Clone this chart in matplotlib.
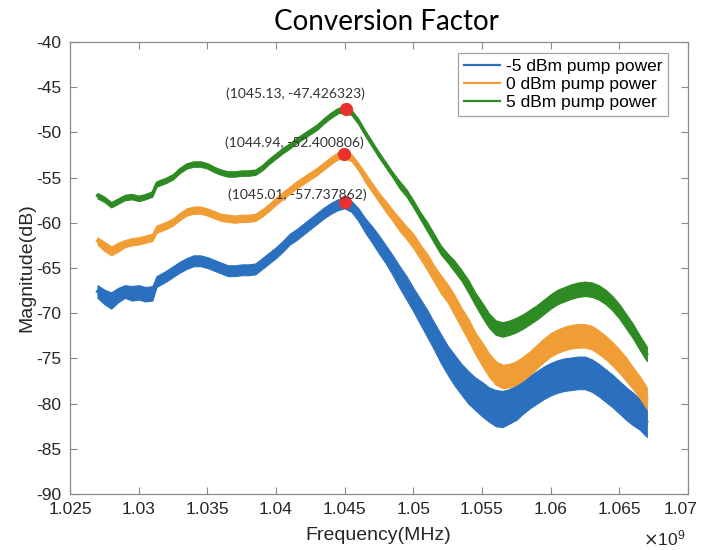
import numpy as np
import matplotlib
matplotlib.use("Agg")
import matplotlib.pyplot as plt
from matplotlib.ticker import FuncFormatter
from matplotlib.transforms import ScaledTranslation

plt.rcParams['axes.unicode_minus'] = False
plt.rcParams['font.family'] = ['Liberation Sans', 'DejaVu Sans']

# Frequency samples (MHz)
freq_mhz = [1027.0, 1027.5, 1028.0, 1028.5, 1029.0, 1029.5, 1030.0, 1030.5, 1031.0, 1031.3,
            1032.0, 1032.5, 1033.0, 1033.5, 1034.0, 1034.5, 1035.0, 1035.5, 1036.0, 1036.5,
            1037.0, 1037.5, 1038.0, 1038.5, 1039.0, 1039.5, 1040.0, 1040.5, 1041.0, 1041.5,
            1042.0, 1042.5, 1043.0, 1043.5, 1044.0, 1044.5, 1045.0, 1045.5, 1046.0, 1046.5,
            1047.0, 1047.5, 1048.0, 1048.5, 1049.0, 1049.5, 1050.0, 1050.5, 1051.0, 1051.5,
            1052.0, 1052.5, 1053.0, 1053.5, 1054.0, 1054.5, 1055.0, 1055.5, 1056.0, 1056.5,
            1057.0, 1057.5, 1058.0, 1058.5, 1059.0, 1059.5, 1060.0, 1060.5, 1061.0, 1061.5,
            1062.0, 1062.5, 1063.0, 1063.5, 1064.0, 1064.5, 1065.0, 1065.5, 1066.0, 1066.5,
            1067.0]

# Mean magnitude (dB) for each pump power
mag_m5 = [-67.6, -68.2, -68.6, -68.0, -67.6, -67.8, -67.7, -67.9, -67.8, -66.5,
          -65.9, -65.4, -64.9, -64.5, -64.2, -64.2, -64.4, -64.7, -65.0, -65.3,
          -65.3, -65.2, -65.2, -65.1, -64.5, -63.9, -63.3, -62.6, -61.8, -61.3,
          -60.7, -60.1, -59.5, -58.9, -58.4, -58.0, -57.8, -58.2, -59.1, -60.3,
          -61.3, -62.4, -63.5, -64.7, -66.0, -67.2, -68.5, -69.8, -71.1, -72.5,
          -73.9, -75.2, -76.3, -77.3, -78.2, -78.9, -79.5, -80.1, -80.5, -80.6,
          -80.3, -79.9, -79.3, -78.7, -78.2, -77.7, -77.3, -77.0, -76.8, -76.7,
          -76.6, -76.6, -76.9, -77.4, -78.0, -78.6, -79.3, -80.0, -80.6, -81.2,
          -82.0]

mag_0 = [-62.0, -62.6, -63.1, -62.7, -62.3, -62.1, -62.0, -61.8, -61.6, -60.7,
         -60.3, -59.9, -59.3, -58.8, -58.6, -58.6, -58.8, -59.1, -59.4, -59.5,
         -59.6, -59.5, -59.5, -59.4, -58.9, -58.3, -57.6, -57.0, -56.4, -55.8,
         -55.3, -54.8, -54.3, -53.7, -53.1, -52.6, -52.45, -52.8, -53.8, -55.0,
         -56.1, -57.2, -58.2, -59.2, -60.2, -61.1, -62.0, -63.2, -64.3, -65.6,
         -66.8, -67.8, -69.1, -70.5, -71.8, -73.3, -74.5, -75.7, -76.6, -77.0,
         -76.9, -76.6, -76.1, -75.5, -74.8, -74.1, -73.5, -73.1, -72.8, -72.6,
         -72.5, -72.5, -72.7, -73.2, -73.8, -74.5, -75.3, -76.2, -77.2, -78.2,
         -79.4]

mag_p5 = [-57.0, -57.4, -58.0, -57.6, -57.2, -57.1, -57.3, -57.1, -56.8, -55.7,
          -55.3, -54.9, -54.2, -53.7, -53.5, -53.5, -53.7, -54.1, -54.4, -54.6,
          -54.6, -54.5, -54.5, -54.4, -53.9, -53.2, -52.6, -52.0, -51.5, -50.9,
          -50.4, -49.9, -49.4, -48.7, -48.1, -47.6, -47.45, -47.8, -48.8, -50.1,
          -51.3, -52.5, -53.6, -54.7, -55.8, -56.7, -57.9, -59.2, -60.4, -61.7,
          -63.0, -63.9, -64.8, -65.8, -67.0, -68.4, -69.6, -70.8, -71.6, -71.8,
          -71.6, -71.3, -70.9, -70.4, -69.9, -69.3, -68.7, -68.2, -67.9, -67.6,
          -67.4, -67.3, -67.4, -67.7, -68.2, -68.9, -69.8, -70.9, -72.0, -73.3,
          -74.5]

# Half-width of the measurement noise (dB) around each mean value
noise_m5 = [0.7, 0.8, 0.9, 0.8, 0.7, 0.8, 0.8, 0.8, 0.8, 0.6,
            0.6, 0.6, 0.6, 0.6, 0.6, 0.6, 0.6, 0.6, 0.6, 0.6,
            0.6, 0.6, 0.6, 0.6, 0.6, 0.6, 0.6, 0.6, 0.6, 0.6,
            0.6, 0.6, 0.6, 0.6, 0.6, 0.6, 0.6, 0.6, 0.7, 0.8,
            0.9, 1.0, 1.0, 1.1, 1.2, 1.3, 1.3, 1.4, 1.5, 1.5,
            1.6, 1.6, 1.7, 1.7, 1.8, 1.8, 1.9, 1.9, 2.0, 2.0,
            1.9, 1.9, 1.8, 1.8, 1.8, 1.8, 1.8, 1.8, 1.8, 1.8,
            1.8, 1.8, 1.8, 1.8, 1.8, 1.8, 1.8, 1.8, 1.8, 1.7,
            1.7]

noise_0 = [0.4, 0.5, 0.5, 0.5, 0.4, 0.4, 0.4, 0.4, 0.4, 0.4,
           0.4, 0.4, 0.4, 0.4, 0.4, 0.4, 0.4, 0.4, 0.4, 0.4,
           0.4, 0.4, 0.4, 0.4, 0.4, 0.4, 0.4, 0.4, 0.4, 0.4,
           0.4, 0.4, 0.4, 0.4, 0.4, 0.4, 0.4, 0.4, 0.4, 0.5,
           0.5, 0.5, 0.6, 0.6, 0.7, 0.7, 0.8, 0.8, 0.9, 0.9,
           1.0, 1.0, 1.1, 1.1, 1.2, 1.2, 1.3, 1.3, 1.3, 1.3,
           1.3, 1.3, 1.3, 1.3, 1.3, 1.3, 1.3, 1.3, 1.3, 1.3,
           1.3, 1.3, 1.3, 1.3, 1.3, 1.3, 1.3, 1.3, 1.2, 1.2,
           1.2]

noise_p5 = [0.3, 0.3, 0.3, 0.3, 0.3, 0.3, 0.3, 0.3, 0.3, 0.3,
            0.3, 0.3, 0.3, 0.3, 0.3, 0.3, 0.3, 0.3, 0.3, 0.3,
            0.3, 0.3, 0.3, 0.3, 0.3, 0.3, 0.3, 0.3, 0.3, 0.3,
            0.3, 0.3, 0.3, 0.3, 0.3, 0.3, 0.3, 0.3, 0.3, 0.3,
            0.3, 0.3, 0.3, 0.3, 0.4, 0.4, 0.4, 0.4, 0.5, 0.5,
            0.5, 0.5, 0.6, 0.6, 0.7, 0.7, 0.8, 0.8, 0.8, 0.8,
            0.8, 0.8, 0.8, 0.8, 0.8, 0.8, 0.8, 0.8, 0.8, 0.8,
            0.8, 0.8, 0.8, 0.8, 0.8, 0.8, 0.8, 0.8, 0.8, 0.8,
            0.8]

series_labels = ['-5 dBm pump power', '0 dBm pump power', '5 dBm pump power']
series_colors = ['#2b70bf', '#f19d35', '#2e8a22']

# Peak markers (MHz, dB)
peak_freq = [1045.01, 1044.94, 1045.13]
peak_mag = [-57.737862, -52.400806, -47.426323]

y_ticks = [-90, -85, -80, -75, -70, -65, -60, -55, -50, -45, -40]
x_ticks_ghz = [1.025, 1.03, 1.035, 1.04, 1.045, 1.05, 1.055, 1.06, 1.065, 1.07]

fig = plt.figure(figsize=(7.02, 5.5), dpi=100)
W, H = 702, 550
ax = fig.add_axes([70 / W, 1 - 494 / H, (688 - 70) / W, (494 - 42) / H])

freq_hz = np.array(freq_mhz) * 1e6
mags = [np.array(mag_m5), np.array(mag_0), np.array(mag_p5)]
noises = [np.array(noise_m5), np.array(noise_0), np.array(noise_p5)]

handles = []
for m, n, c, lab in zip(mags, noises, series_colors, series_labels):
    ax.fill_between(freq_hz, m - n, m + n, color=c, lw=0.8, edgecolor=c, zorder=2)
    h, = ax.plot(freq_hz, m, color=c, lw=2.2, label=lab, zorder=3,
                 solid_joinstyle='round')
    handles.append(h)

# Peak markers and coordinate labels
text_offsets = [(-47, 8), (-49, 11), (-51, 15)]
for f, v, off in zip(peak_freq, peak_mag, text_offsets):
    ax.plot(f * 1e6, v, 'o', color='#e8312d', ms=8.5, mec='#e8312d', zorder=5)
    ax.annotate(f'({f:g}, {v:.6f})', xy=(f * 1e6, v), xytext=off,
                textcoords='offset pixels', ha='center', va='center',
                fontsize=10, family=['Lato', 'DejaVu Sans'], color='#333333', zorder=6)

ax.set_xlim(1.025e9, 1.07e9)
ax.set_ylim(-90, -40)
ax.set_yticks(y_ticks)
ax.set_xticks([t * 1e9 for t in x_ticks_ghz])
ax.xaxis.set_major_formatter(FuncFormatter(lambda v, p: f'{v / 1e9:g}'))

spine_col = '#8a8a8a'
for s in ax.spines.values():
    s.set_color(spine_col)
    s.set_linewidth(0.9)
ax.tick_params(direction='in', length=5, width=0.8, color=spine_col,
               top=True, right=True, labelsize=12.5, labelcolor='#262626', pad=6)

# keep the last frequency label inside the canvas
fig.canvas.draw()
last = ax.get_xticklabels()[-1]
last.set_transform(last.get_transform() + ScaledTranslation(-5 / 72, 0, fig.dpi_scale_trans))

ax.set_xlabel('Frequency(MHz)', fontsize=14, color='#262626')
ax.set_ylabel('Magnitude(dB)', fontsize=14, color='#262626')
ax.xaxis.set_label_coords((378 - 70) / (688 - 70), -(536 - 494) / (494 - 42))
ax.yaxis.set_label_coords(-(70 - 27) / (688 - 70), 0.5)
ax.xaxis.label.set_va('center')
ax.yaxis.label.set_va('center')

# Exponent for the frequency axis
ax.text(0.995, -(538 - 494) / (494 - 42), r'$\times\mathregular{10^{9}}$',
        transform=ax.transAxes, ha='right', va='center', fontsize=12.5,
        color='#262626')

leg = ax.legend(handles=handles, loc='upper right', bbox_to_anchor=(0.968, 0.976),
                fontsize=12.5, frameon=True, fancybox=False, edgecolor='#8a8a8a',
                handlelength=2.1, handletextpad=0.3, labelspacing=0.15,
                borderpad=0.35, borderaxespad=0)
leg.get_frame().set_linewidth(0.9)
for lh in leg.legend_handles:
    lh.set_linewidth(1.6)

fig.text(386 / W, 1 - 22 / H, 'Conversion Factor', ha='center', va='center',
         fontsize=20, family=['Lato', 'DejaVu Sans'], color='black')

fig.savefig('out.png', dpi=100, facecolor='white')
